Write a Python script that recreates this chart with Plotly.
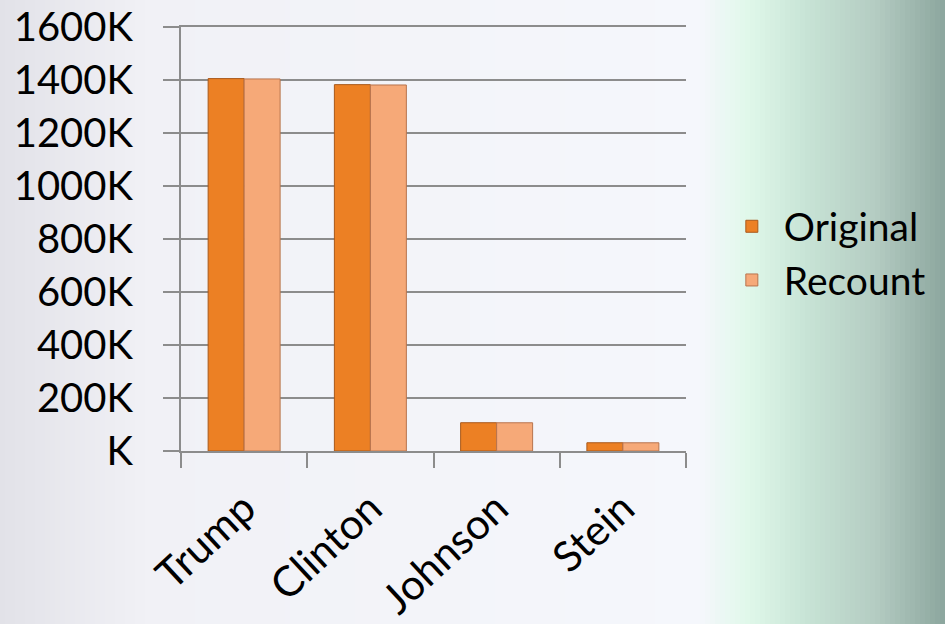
import plotly.graph_objects as go

candidates = ["Trump", "Clinton", "Johnson", "Stein"]
original = [1405.3, 1382.5, 106.7, 31.1]   # thousands of votes
recount = [1404.0, 1381.2, 106.5, 31.0]
y_tickvals = [0, 200, 400, 600, 800, 1000, 1200, 1400, 1600]
y_ticktext = ["K", "200K", "400K", "600K", "800K", "1000K", "1200K", "1400K", "1600K"]

W, H = 945, 624
L, R, T, B = 181, 686, 27, 451
pw, ph = R - L, B - T

fig = go.Figure()
fig.add_trace(go.Bar(name="Original", x=candidates, y=original,
                     marker=dict(color="#ec8024", line=dict(color="#a9581a", width=1))))
fig.add_trace(go.Bar(name="Recount", x=candidates, y=recount,
                     marker=dict(color="#f6a978", line=dict(color="#b8744e", width=1))))

# background gradient (styling only)
stops = [(0, (226, 226, 232)), (150, (241, 241, 246)), (700, (245, 247, 252)),
         (748, (224, 248, 234)), (805, (200, 228, 214)), (875, (180, 204, 194)),
         (945, (140, 166, 158))]

def col(px):
    for (a, ca), (b, cb) in zip(stops[:-1], stops[1:]):
        if a <= px <= b:
            t = (px - a) / (b - a)
            return "rgb(%d,%d,%d)" % tuple(round(ca[i] + (cb[i] - ca[i]) * t) for i in range(3))
    return "rgb(%d,%d,%d)" % stops[-1][1]

shapes = []
step = 5
for px in range(0, W, step):
    shapes.append(dict(type="rect", xref="paper", yref="paper",
                       x0=(px - L) / pw, x1=(px + step + 1 - L) / pw,
                       y0=-(H - B) / ph - 0.01, y1=1 + T / ph + 0.01,
                       fillcolor=col(px + step / 2), line=dict(width=0), layer="below"))

fig.update_layout(
    width=W, height=H,
    margin=dict(l=L, r=W - R, t=T, b=H - B, autoexpand=False),
    paper_bgcolor="#f3f4f8", plot_bgcolor="rgba(0,0,0,0)",
    shapes=shapes,
    barmode="group", bargap=0.43, bargroupgap=0,
    font=dict(family="Lato, Open Sans, sans-serif", size=39, color="#000000"),
    legend=dict(x=1.067, y=0.466, xanchor="left", yanchor="middle",
                font=dict(size=39), bgcolor="rgba(0,0,0,0)", itemwidth=54),
    xaxis=dict(showgrid=False, showline=True, linecolor="#8c8c8c", linewidth=2,
               mirror=True, automargin=False,
               ticks="outside", ticklen=15, tickwidth=2, tickcolor="#8c8c8c",
               tickson="boundaries", tickangle=-43, tickfont=dict(size=42),
               ticklabelstandoff=14),
    yaxis=dict(range=[0, 1600], tickvals=y_tickvals, ticktext=y_ticktext,
               showgrid=True, gridcolor="#8c8c8c", gridwidth=1.5, automargin=False,
               showline=True, linecolor="#8c8c8c", linewidth=2,
               ticks="outside", ticklen=16, tickwidth=2, tickcolor="#8c8c8c",
               ticklabelstandoff=22, zeroline=False, tickfont=dict(size=40)),
)

fig.write_html("out.html", config={"displayModeBar": False},
               post_script="document.body.style.margin='0';")
